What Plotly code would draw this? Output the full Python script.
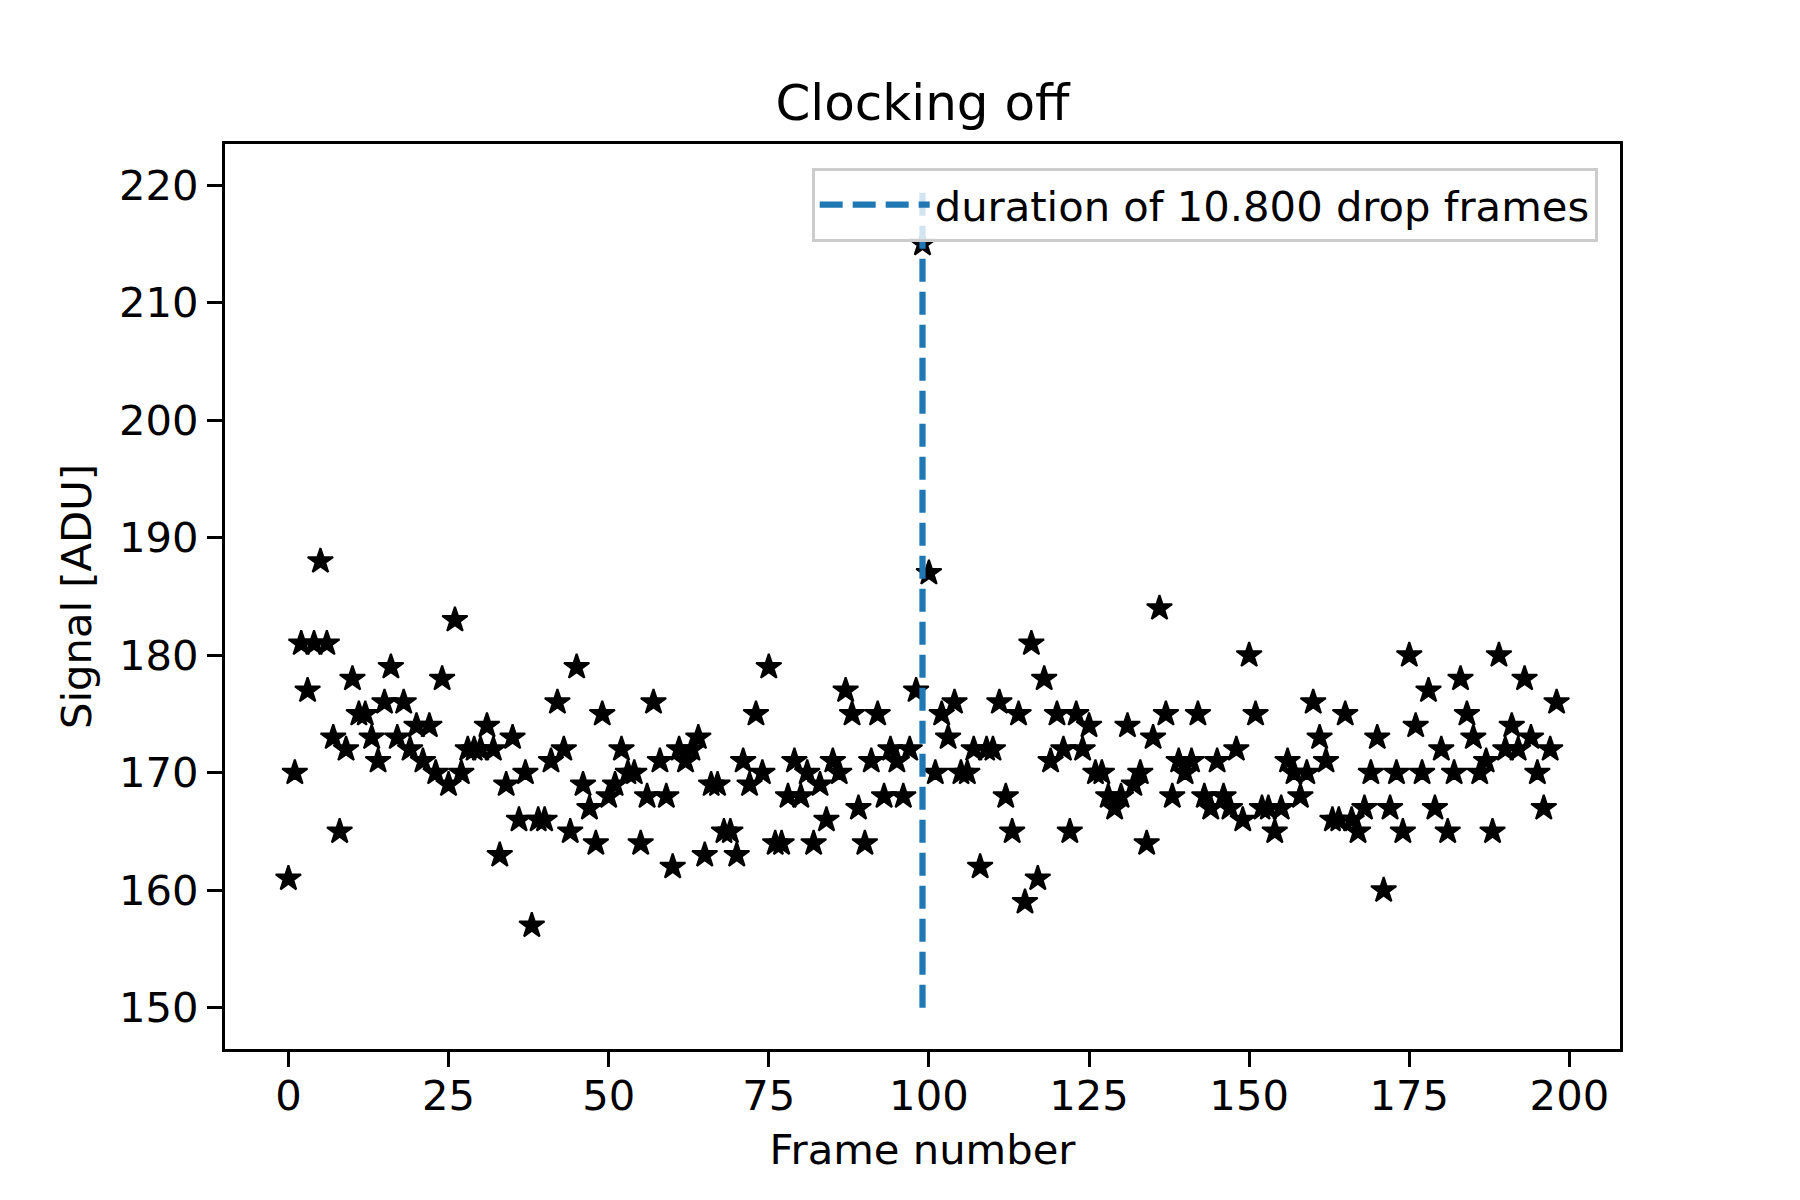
import plotly.graph_objects as go

# Frame numbers and measured signal
frames = list(range(199))
signal = [
    161, 170, 181, 177, 181, 188, 181, 173, 165, 172,
    178, 175, 175, 173, 171, 176, 179, 173, 176, 172,
    174, 171, 174, 170, 178, 169, 183, 170, 172, 172,
    172, 174, 172, 163, 169, 173, 166, 170, 157, 166,
    166, 171, 176, 172, 165, 179, 169, 167, 164, 175,
    168, 169, 172, 170, 170, 164, 168, 176, 171, 168,
    162, 172, 171, 172, 173, 163, 169, 169, 165, 165,
    163, 171, 169, 175, 170, 179, 164, 164, 168, 171,
    168, 170, 164, 169, 166, 171, 170, 177, 175, 167,
    164, 171, 175, 168, 172, 171, 168, 172, 177, 215,
    187, 170, 175, 173, 176, 170, 170, 172, 162, 172,
    172, 176, 168, 165, 175, 159, 181, 161, 178, 171,
    175, 172, 165, 175, 172, 174, 170, 170, 168, 167,
    168, 174, 169, 170, 164, 173, 184, 175, 168, 171,
    170, 171, 175, 168, 167, 171, 168, 167, 172, 166,
    180, 175, 167, 167, 165, 167, 171, 170, 168, 170,
    176, 173, 171, 166, 166, 175, 166, 165, 167, 170,
    173, 160, 167, 170, 165, 180, 174, 170, 177, 167,
    172, 165, 170, 178, 175, 173, 170, 171, 165, 180,
    172, 174, 172, 178, 173, 170, 167, 172, 176,
]

drop_x = [99, 99]
drop_y = [150, 220]
drop_label = "duration of 10.800 drop frames"

x_ticks = [0, 25, 50, 75, 100, 125, 150, 175, 200]
y_ticks = [150, 160, 170, 180, 190, 200, 210, 220]

FONT = "DejaVu Sans"
fig = go.Figure()
fig.add_trace(go.Scatter(
    x=frames, y=signal, mode="markers", showlegend=False,
    marker=dict(symbol="star", size=19, color="black",
                line=dict(color="black", width=2)),
))
fig.add_trace(go.Scatter(
    x=drop_x, y=drop_y, mode="lines", name=drop_label,
    line=dict(color="#1f77b4", width=6.25, dash="23px,10px"),
))

axis_common = dict(
    showgrid=False, zeroline=False, showline=True, linecolor="black",
    linewidth=3, mirror=True, ticks="outside", ticklen=15, tickwidth=3,
    tickcolor="black", tickfont=dict(family=FONT, size=41.7, color="black"),
    automargin=False,
)
fig.update_xaxes(range=[-9.9, 207.9], tickvals=x_ticks, ticklabelstandoff=-7,
                 **axis_common,
                 title=dict(text="Frame number", standoff=16,
                            font=dict(family=FONT, size=41.7, color="black")))
fig.update_yaxes(range=[146.5, 223.5], tickvals=y_ticks, **axis_common,
                 title=dict(text="Signal [ADU]", standoff=15,
                            font=dict(family=FONT, size=41.7, color="black")))

fig.update_layout(
    width=1800, height=1200, autosize=False,
    margin=dict(l=225, r=180, t=144, b=151),
    paper_bgcolor="white", plot_bgcolor="white",
    font=dict(family=FONT, color="black"),
    title=dict(text="Clocking off", x=0.5, xref="paper", xanchor="center",
               y=1 - 102 / 1200, yref="container", yanchor="middle",
               font=dict(family=FONT, size=50, color="black")),
    legend=dict(x=0.984, y=0.9735, xanchor="right", yanchor="top",
                bgcolor="rgba(255,255,255,0.8)", bordercolor="#cccccc",
                borderwidth=3, itemwidth=110,
                font=dict(family=FONT, size=41.7, color="black")),
)

fig.write_html("out.html", config={"displayModeBar": False},
               post_script="document.body.style.margin='0px';")
